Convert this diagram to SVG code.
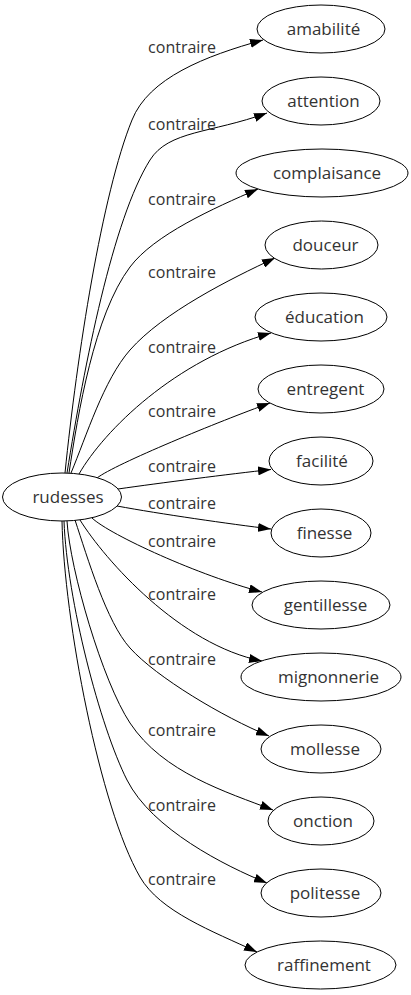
<svg xmlns="http://www.w3.org/2000/svg" width="411" height="995" viewBox="0 0 411 995">
<style>
text{font-family:"Open Sans","Noto Sans","DejaVu Sans",sans-serif;font-size:16px;fill:#333;text-anchor:middle}
.n text{font-size:17px}
.n ellipse{fill:#fff;stroke:#000;stroke-width:1}
#edges path{fill:none;stroke:#000;stroke-width:1;marker-end:url(#arr)}
</style>
<defs>
<marker id="arr" markerUnits="userSpaceOnUse" markerWidth="13" markerHeight="9" viewBox="0 0 13 9" refX="13" refY="4.5" orient="auto">
<path d="M0,0 L13,4.5 L0,9 z" fill="#000"/>
</marker>
</defs>
<rect width="411" height="995" fill="#fff"/>
<g id="edges">
<path d="M65,473 C77,355 102,194 132,120 C148.7,78 205,56 263,40"/>
<path d="M67,473 C84.5,364 112.8,219.3 150,160 C168.6,130.4 210.6,133.4 267,113"/>
<path d="M69,473 C78,413.6 94,315 130,267 C154,235 213,208.4 258,189"/>
<path d="M71,473 C86.5,436 103.6,380 130,350 C163,312.5 230,279 275,258"/>
<path d="M79,474 C104,430.5 175,360 271,333"/>
<path d="M97,478 C115,464 220,421 270,403"/>
<path d="M118,489 C160,483 230,474 271,469.5"/>
<path d="M117,506 C160,514 230,524 271,529"/>
<path d="M92,518 C110,535 200,576 262,592"/>
<path d="M80,520 C105,560 180,645 262,661"/>
<path d="M75,520 C87.6,558 106.5,622 130,648 C156.8,677.6 223,717 269,736"/>
<path d="M67,521 C70,570 102.5,681.5 130,723 C163,772.8 226.5,792 273,810"/>
<path d="M64,521 C67,600 100,726.6 127,780 C151.75,829 225,866 267,883"/>
<path d="M62,521 C64,620 100,807.7 140,877 C160,911.6 212,931 257,952"/>
</g>
<g id="labels">
<text x="182" y="53">contraire</text>
<text x="182" y="130">contraire</text>
<text x="182" y="205">contraire</text>
<text x="182" y="278">contraire</text>
<text x="182" y="353">contraire</text>
<text x="182" y="417">contraire</text>
<text x="182" y="472">contraire</text>
<text x="182" y="509">contraire</text>
<text x="182" y="547">contraire</text>
<text x="182" y="600">contraire</text>
<text x="182" y="665">contraire</text>
<text x="182" y="736">contraire</text>
<text x="182" y="811">contraire</text>
<text x="182" y="885">contraire</text>
</g>
<g id="rudesses" class="n"><ellipse cx="62" cy="497" rx="59.5" ry="24"/><text x="68" y="503">rudesses</text></g>
<g id="amabilite" class="n"><ellipse cx="321" cy="29" rx="64" ry="24"/><text x="323.5" y="35">amabilité</text></g>
<g id="attention" class="n"><ellipse cx="321" cy="101" rx="59" ry="24"/><text x="323.5" y="107">attention</text></g>
<g id="complaisance" class="n"><ellipse cx="322" cy="173" rx="86" ry="24"/><text x="327" y="179">complaisance</text></g>
<g id="douceur" class="n"><ellipse cx="321.5" cy="245" rx="56.5" ry="24"/><text x="325.5" y="251">douceur</text></g>
<g id="education" class="n"><ellipse cx="321" cy="317" rx="66" ry="24"/><text x="324.5" y="323">éducation</text></g>
<g id="entregent" class="n"><ellipse cx="321" cy="389" rx="63" ry="24"/><text x="325.5" y="395">entregent</text></g>
<g id="facilite" class="n"><ellipse cx="321" cy="461" rx="52" ry="24"/><text x="322" y="467">facilité</text></g>
<g id="finesse" class="n"><ellipse cx="321" cy="533" rx="50" ry="24"/><text x="324.5" y="539">finesse</text></g>
<g id="gentillesse" class="n"><ellipse cx="321" cy="605" rx="69" ry="24"/><text x="325.5" y="611">gentillesse</text></g>
<g id="mignonnerie" class="n"><ellipse cx="321" cy="677" rx="80" ry="24"/><text x="328.5" y="683">mignonnerie</text></g>
<g id="mollesse" class="n"><ellipse cx="321" cy="749" rx="60" ry="24"/><text x="325" y="755">mollesse</text></g>
<g id="onction" class="n"><ellipse cx="321" cy="821" rx="53" ry="24"/><text x="323" y="827">onction</text></g>
<g id="politesse" class="n"><ellipse cx="321" cy="893" rx="60" ry="24"/><text x="325" y="899">politesse</text></g>
<g id="raffinement" class="n"><ellipse cx="320.5" cy="965" rx="75.5" ry="24"/><text x="324" y="971">raffinement</text></g>
</svg>
